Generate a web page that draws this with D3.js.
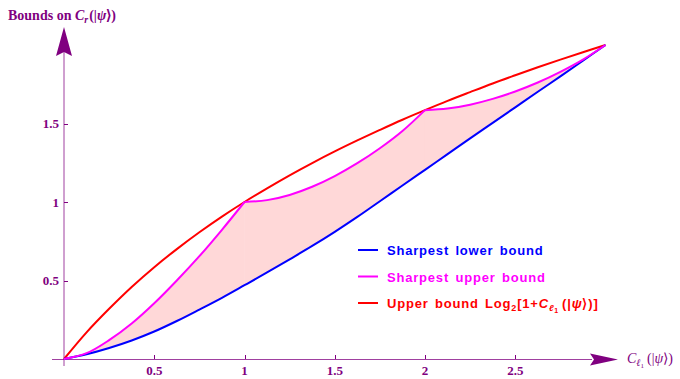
<!DOCTYPE html>
<html>
<head>
<meta charset="utf-8">
<script src="https://cdn.jsdelivr.net/npm/d3@7"></script>
<style>
  body { margin: 0; background: #fff; }
  svg { display: block; }
  .tick-label { font-family: "Liberation Serif", "Times New Roman", serif; font-weight: bold; font-size: 13px; fill: #800080; }
  .legend text { font-family: "Liberation Sans", Arial, sans-serif; font-weight: bold; font-size: 13px; letter-spacing: 0.8px; word-spacing: 2px; }
</style>
</head>
<body>
<div class="chart"></div>
<script>
// values
const xGrid = [0, 0.125, 0.25, 0.375, 0.5, 0.625, 0.75, 0.875, 1, 1.125, 1.25, 1.375, 1.5,
  1.625, 1.75, 1.875, 2, 2.125, 2.25, 2.375, 2.5, 2.625, 2.75, 2.875, 3];
const lowerBound = [0, 0.03, 0.07, 0.118, 0.175, 0.242, 0.315, 0.39, 0.47, 0.551, 0.635, 0.72, 0.81,
  0.905, 1.005, 1.105, 1.205, 1.305, 1.405, 1.504, 1.603, 1.702, 1.80, 1.90, 2.0];
const upperBound = [0, 0.037, 0.12, 0.226, 0.355, 0.50, 0.655, 0.823, 1.0, 1.012, 1.045, 1.097, 1.165,
  1.247, 1.342, 1.452, 1.585, 1.595, 1.62, 1.657, 1.704, 1.761, 1.829, 1.907, 2.0];
const logBound = [0, 0.17, 0.32, 0.459, 0.585, 0.70, 0.807, 0.907, 1.0, 1.087, 1.17, 1.248, 1.322,
  1.392, 1.459, 1.524, 1.585, 1.644, 1.70, 1.755, 1.807, 1.858, 1.907, 1.954, 2.0];
// upper bound has corners at these x values
const pieceBreaks = [0, 1, 2, 3];
const xTicks = [0.5, 1, 1.5, 2, 2.5];
const yTicks = [0.5, 1, 1.5];

const width = 680, height = 379;
const purple = '#800080';

const svg = d3.select('.chart').append('svg')
  .attr('width', width)
  .attr('height', height);

const x = d3.scaleLinear().domain([0, 3]).range([64, 605.5]);
const y = d3.scaleLinear().domain([0, 2]).range([359, 45]);

const rows = xGrid.map((v, i) => ({x: v, lo: lowerBound[i], up: upperBound[i], lg: logBound[i]}));
const pieces = d3.pairs(pieceBreaks).map(([a, b]) => rows.filter(d => d.x >= a && d.x <= b));
const smooth = d3.curveCatmullRom.alpha(0.5);

// shaded region between the two sharpest bounds
const area = d3.area()
  .x(d => x(d.x))
  .y0(d => y(d.lo))
  .y1(d => y(d.up))
  .curve(smooth);
svg.append('g').selectAll('path')
  .data(pieces)
  .enter()
  .append('path')
  .attr('d', area)
  .attr('fill', '#ffd8d8')
  .attr('stroke', '#ffd8d8')
  .attr('stroke-width', 0.6);

// axes
const axisG = svg.append('g');
axisG.append('line')
  .attr('x1', 52).attr('x2', 592)
  .attr('y1', y(0) + 0.5).attr('y2', y(0) + 0.5)
  .attr('stroke', purple).attr('stroke-opacity', 0.75);
axisG.append('line')
  .attr('x1', x(0)).attr('x2', x(0))
  .attr('y1', 366).attr('y2', 50)
  .attr('stroke', purple).attr('stroke-opacity', 0.75);
axisG.append('path')
  .attr('d', 'M590,353.5 L618,359.5 L590,365.5 L594,359.5 Z')
  .attr('fill', purple);
axisG.append('path')
  .attr('d', `M${x(0) - 8},56 L${x(0)},27 L${x(0) + 8},56 L${x(0)},52 Z`)
  .attr('fill', purple);

axisG.selectAll('.xt')
  .data(xTicks)
  .enter()
  .append('line')
  .attr('x1', d => Math.round(x(d)) + 0.5).attr('x2', d => Math.round(x(d)) + 0.5)
  .attr('y1', y(0)).attr('y2', y(0) - 4)
  .attr('stroke', purple);
axisG.selectAll('.xl')
  .data(xTicks)
  .enter()
  .append('text')
  .attr('class', 'tick-label')
  .attr('x', d => x(d))
  .attr('y', 375)
  .attr('text-anchor', 'middle')
  .text(d => d);

axisG.selectAll('.yt')
  .data(yTicks)
  .enter()
  .append('line')
  .attr('x1', x(0)).attr('x2', x(0) + 4)
  .attr('y1', d => Math.round(y(d)) + 0.5).attr('y2', d => Math.round(y(d)) + 0.5)
  .attr('stroke', purple);
axisG.selectAll('.yl')
  .data(yTicks)
  .enter()
  .append('text')
  .attr('class', 'tick-label')
  .attr('x', 59)
  .attr('y', d => y(d) + 4.5)
  .attr('text-anchor', 'end')
  .text(d => d);

// axis titles
const yTitle = svg.append('text')
  .attr('x', 8).attr('y', 20)
  .attr('fill', purple)
  .style('font-family', '"Liberation Serif", serif')
  .style('font-weight', 'bold')
  .style('font-size', '14px');
yTitle.append('tspan').text('Bounds on ');
yTitle.append('tspan').style('font-style', 'italic').text('C');
yTitle.append('tspan').style('font-style', 'italic').style('font-size', '10px').attr('dy', 3).text('r');
yTitle.append('tspan').attr('dy', -3).attr('dx', 1).text('(|');
yTitle.append('tspan').style('font-style', 'italic').text('ψ');
yTitle.append('tspan').text('⟩)');

const xTitle = svg.append('text')
  .attr('x', 627).attr('y', 363)
  .attr('fill', purple)
  .style('font-family', '"Liberation Serif", serif')
  .style('font-size', '14px');
xTitle.append('tspan').style('font-style', 'italic').text('C');
xTitle.append('tspan').style('font-style', 'italic').style('font-size', '10px').attr('dy', 3).text('ℓ');
xTitle.append('tspan').style('font-size', '7px').attr('dy', 2).text('1');
xTitle.append('tspan').attr('dy', -5).attr('dx', 3).text('(|');
xTitle.append('tspan').style('font-style', 'italic').text('ψ');
xTitle.append('tspan').text('⟩)');

// curves
const line = key => d3.line()
  .x(d => x(d.x))
  .y(d => y(d[key]))
  .curve(smooth);

svg.append('path')
  .attr('d', line('lg')(rows))
  .attr('fill', 'none').attr('stroke', '#ff0000').attr('stroke-width', 2);
svg.append('path')
  .attr('d', line('lo')(rows))
  .attr('fill', 'none').attr('stroke', '#0000ff').attr('stroke-width', 2);
svg.append('g').selectAll('path')
  .data(pieces)
  .enter()
  .append('path')
  .attr('d', line('up'))
  .attr('fill', 'none').attr('stroke', '#ff00ff').attr('stroke-width', 2);

// legend
const legendItems = [
  {color: '#0000ff', label: 'Sharpest lower bound'},
  {color: '#ff00ff', label: 'Sharpest upper bound'},
  {color: '#ff0000', label: null}
];
const legend = svg.append('g').attr('class', 'legend');
legendItems.forEach((item, i) => {
  const ly = 250 + i * 26.5;
  legend.append('line')
    .attr('x1', 358).attr('x2', 378)
    .attr('y1', ly).attr('y2', ly)
    .attr('stroke', item.color).attr('stroke-width', 2);
  const t = legend.append('text')
    .attr('x', 387).attr('y', ly + 5)
    .attr('fill', item.color);
  if (item.label) {
    t.text(item.label);
  } else {
    t.append('tspan').text('Upper bound Log');
    t.append('tspan').style('font-size', '9px').attr('dy', 3).text('2');
    t.append('tspan').attr('dy', -3).text('[1+');
    t.append('tspan').style('font-style', 'italic').text('C');
    t.append('tspan').style('font-style', 'italic').style('font-size', '9px').attr('dy', 3).text('ℓ');
    t.append('tspan').style('font-size', '7px').attr('dy', 2).text('1');
    t.append('tspan').attr('dy', -5).attr('dx', 3).text('(|');
    t.append('tspan').style('font-style', 'italic').text('ψ');
    t.append('tspan').text('⟩)]');
  }
});
</script>
</body>
</html>
